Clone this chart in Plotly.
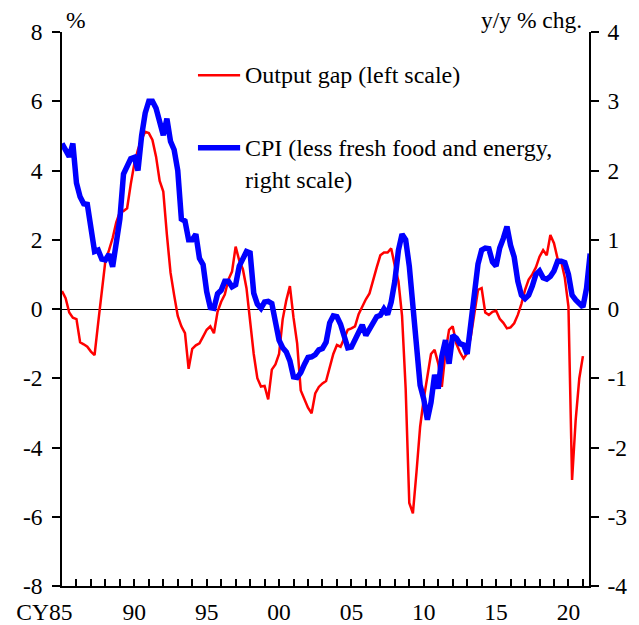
import plotly.graph_objects as go

# quarterly data, first point = 1985 Q1
start_year = 1985

# output gap, % (left scale), 1985Q1 - 2021Q1
output_gap = [
    0.52, 0.31, -0.10, -0.25,
    -0.29, -0.96, -1.02, -1.09,
    -1.23, -1.33, -0.40, 0.60,
    1.40, 1.70, 2.05, 2.50,
    2.80, 2.83, 2.91, 3.60,
    4.20, 4.60, 4.90, 5.12,
    5.08, 4.88, 4.40, 3.70,
    3.39, 2.14, 1.05, 0.40,
    -0.20, -0.50, -0.70, -1.73,
    -1.15, -1.05, -0.99, -0.80,
    -0.60, -0.50, -0.70, -0.08,
    0.21, 0.42, 0.85, 1.08,
    1.80, 1.40, 1.15, 0.60,
    -0.40, -1.30, -2.00, -2.24,
    -2.22, -2.61, -1.75, -1.60,
    -1.30, -0.30, 0.25, 0.66,
    -0.25, -0.99, -2.35, -2.60,
    -2.85, -3.01, -2.44, -2.25,
    -2.15, -2.08, -1.70, -1.30,
    -1.04, -1.09, -0.85, -0.60,
    -0.56, -0.50, -0.15, 0.08,
    0.28, 0.45, 0.85, 1.20,
    1.55, 1.63, 1.63, 1.75,
    1.25, 0.80, -0.20, -2.30,
    -5.60, -5.90, -4.70, -3.40,
    -2.60, -2.00, -1.30, -1.18,
    -1.57, -2.25, -1.25, -0.60,
    -0.50, -1.00, -1.25, -1.43,
    -1.28, -0.80, -0.15, 0.55,
    0.60, -0.10, -0.17, -0.08,
    -0.05, -0.28, -0.40, -0.56,
    -0.53, -0.41, -0.17, 0.15,
    0.55, 0.85, 1.00, 1.20,
    1.51, 1.70, 1.55, 2.14,
    1.90, 1.45, 1.37, 0.90,
    0.07, -4.94, -3.20, -2.00,
    -1.36,
]

# CPI less fresh food and energy, y/y % chg. (right scale), 1985Q1 - 2021Q3
cpi_core = [
    2.39, 2.30, 2.20, 2.39,
    1.82, 1.62, 1.52, 1.51,
    1.10, 0.83, 0.85, 0.72,
    0.71, 0.79, 0.61, 0.95,
    1.30, 1.95, 2.08, 2.17,
    2.19, 2.00, 2.50, 2.83,
    3.00, 3.00, 2.90, 2.70,
    2.51, 2.75, 2.42, 2.30,
    2.00, 1.30, 1.27, 1.00,
    1.00, 1.08, 0.73, 0.64,
    0.25, 0.02, 0.01, 0.22,
    0.27, 0.40, 0.40, 0.32,
    0.35, 0.62, 0.72, 0.83,
    0.81, 0.23, 0.07, 0.01,
    0.10, 0.11, 0.08, -0.21,
    -0.45, -0.56, -0.62, -0.75,
    -0.98, -0.99, -0.92, -0.80,
    -0.70, -0.69, -0.66, -0.59,
    -0.57, -0.48, -0.20, -0.10,
    -0.11, -0.22, -0.42, -0.56,
    -0.55, -0.45, -0.33, -0.23,
    -0.38, -0.28, -0.18, -0.11,
    -0.09, 0.00, -0.08, 0.10,
    0.40, 0.85, 1.08, 1.00,
    0.62, 0.00, -0.60, -1.10,
    -1.30, -1.60, -1.35, -0.95,
    -1.15, -0.68, -0.45, -0.79,
    -0.38, -0.42, -0.50, -0.52,
    -0.65, -0.20, 0.20, 0.65,
    0.85, 0.88, 0.87, 0.68,
    0.62, 0.88, 1.02, 1.19,
    0.92, 0.75, 0.40, 0.20,
    0.15, 0.20, 0.33, 0.50,
    0.55, 0.45, 0.43, 0.47,
    0.55, 0.69, 0.69, 0.67,
    0.50, 0.20, 0.13, 0.08,
    0.03, 0.30, 0.80,
]

year_ticks = list(range(1985, 2022))
tick_text = ["CY85" + "\u00a0" * 6 if y == 1985 else (f"{y % 100:02d}" if y % 5 == 0 else "")
             for y in year_ticks]
left_ticks = [-8, -6, -4, -2, 0, 2, 4, 6, 8]
right_ticks = [-4, -3, -2, -1, 0, 1, 2, 3, 4]

gap_x = [start_year + i / 4 for i in range(len(output_gap))]
cpi_x = [start_year + i / 4 for i in range(len(cpi_core))]

FONT = "Liberation Serif, Times New Roman, serif"
TICK = dict(family=FONT, size=23.5, color="black")
LEG = dict(family=FONT, size=24, color="black")

fig = go.Figure()
fig.add_trace(go.Scatter(x=gap_x, y=output_gap, mode="lines", name="Output gap (left scale)",
                         line=dict(color="#FF0000", width=2.5)))
fig.add_trace(go.Scatter(x=cpi_x, y=cpi_core, mode="lines", yaxis="y2",
                         name="CPI (less fresh food and energy, right scale)",
                         line=dict(color="#0000FF", width=5.5)))

# hand-made legend (sample lines + text)
fig.add_shape(type="line", xref="paper", yref="paper", x0=0.258, x1=0.338, y0=0.922, y1=0.922,
              line=dict(color="#FF0000", width=2.5))
fig.add_shape(type="line", xref="paper", yref="paper", x0=0.258, x1=0.338, y0=0.791, y1=0.791,
              line=dict(color="#0000FF", width=5.5))

fig.update_layout(
    width=631, height=617,
    margin=dict(l=54, r=50, t=24, b=39),
    paper_bgcolor="white", plot_bgcolor="white",
    font=TICK,
    showlegend=False,
    xaxis=dict(range=[1985, 2021.42], tickmode="array", tickvals=year_ticks, ticktext=tick_text,
               ticks="inside", ticklen=7, tickcolor="black", tickwidth=1.5, ticklabelstandoff=4,
               showline=True, linecolor="black", linewidth=1.5, showgrid=False, zeroline=False,
               automargin=False, tickfont=TICK),
    yaxis=dict(range=[-8, 8], tickmode="array", tickvals=left_ticks,
               ticktext=[str(v) for v in left_ticks], ticks="outside", ticklen=8,
               tickcolor="black", tickwidth=1.5, ticklabelstandoff=5,
               showline=True, linecolor="black", linewidth=1.5, showgrid=False,
               zeroline=True, zerolinecolor="black", zerolinewidth=1.2, automargin=False,
               tickfont=TICK),
    yaxis2=dict(range=[-4, 4], tickmode="array", tickvals=right_ticks,
                ticktext=[str(v) for v in right_ticks], overlaying="y", side="right",
                ticks="outside", ticklen=8, tickcolor="black", tickwidth=1.5, ticklabelstandoff=4,
                showline=True, linecolor="black", linewidth=1.5,
                showgrid=False, zeroline=False, automargin=False, tickfont=TICK),
    annotations=[
        dict(text="%", x=0.004, y=0.9946, xref="paper", yref="paper", xanchor="left",
             yanchor="bottom", showarrow=False, font=TICK),
        dict(text="y/y % chg.", x=0.9905, y=0.9946, xref="paper", yref="paper", xanchor="right",
             yanchor="bottom", showarrow=False, font=TICK),
        dict(text="Output gap (left scale)", x=0.343, y=0.922, xref="paper", yref="paper",
             xanchor="left", yanchor="middle", showarrow=False, font=LEG),
        dict(text="CPI (less fresh food and energy,", x=0.343, y=0.791, xref="paper", yref="paper",
             xanchor="left", yanchor="middle", showarrow=False, font=LEG),
        dict(text="right scale)", x=0.343, y=0.733, xref="paper", yref="paper",
             xanchor="left", yanchor="middle", showarrow=False, font=LEG),
    ],
)

fig.write_html("out.html")
